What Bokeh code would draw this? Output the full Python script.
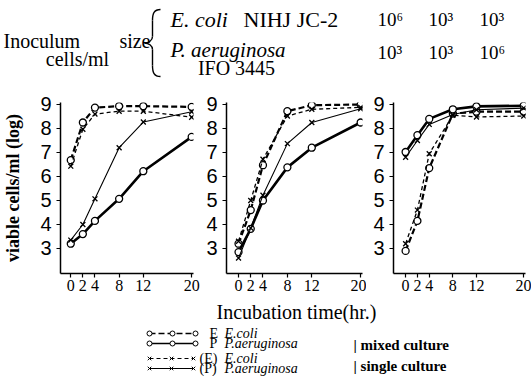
from bokeh.plotting import figure
from bokeh.layouts import column, row
from bokeh.models import Range1d, FixedTicker, Label
from bokeh.embed import file_html
from bokeh.resources import INLINE

# ---------------- data ----------------
hours = [0, 2, 4, 8, 12, 20]
log_ticks = [3, 4, 5, 6, 7, 8, 9]

# panel 1: E. coli 10^6, P. aeruginosa 10^3
e_mix_1 = [6.68, 8.25, 8.87, 8.93, 8.93, 8.9]
e_sgl_1 = [6.43, 7.97, 8.6, 8.72, 8.72, 8.47]
p_mix_1 = [3.2, 3.6, 4.15, 5.07, 6.22, 7.65]
p_sgl_1 = [3.35, 4.0, 5.07, 7.2, 8.27, 8.7]

# panel 2: E. coli 10^3, P. aeruginosa 10^3
e_mix_2 = [3.2, 4.6, 6.47, 8.72, 8.97, 9.0]
e_sgl_2 = [3.3, 5.0, 6.72, 8.52, 8.8, 8.88]
p_mix_2 = [2.85, 3.82, 5.0, 6.38, 7.2, 8.25]
p_sgl_2 = [2.6, 3.85, 5.22, 7.37, 8.25, 8.82]

# panel 3: E. coli 10^3, P. aeruginosa 10^6
e_mix_3 = [2.9, 4.15, 6.35, 8.62, 8.7, 8.7]
e_sgl_3 = [3.2, 4.6, 6.95, 8.55, 8.48, 8.52]
p_mix_3 = [7.02, 7.72, 8.4, 8.8, 8.92, 8.95]
p_sgl_3 = [6.8, 7.5, 8.17, 8.58, 8.78, 8.85]

ecoli_inoc = ["10\u2076", "10\u00b3", "10\u00b3"]
paer_inoc = ["10\u00b3", "10\u00b3", "10\u2076"]

SERIF = "Liberation Serif"

# ---------------- styles ----------------
STY = {
    "e_mix": dict(dash="6 3", lw=2.2, marker="circle"),
    "p_mix": dict(dash="solid", lw=2.6, marker="circle"),
    "e_sgl": dict(dash="4 3", lw=1.3, marker="x"),
    "p_sgl": dict(dash="solid", lw=1.1, marker="x"),
}


def draw_series(p, xs, ys, key):
    s = STY[key]
    p.line(xs, ys, line_color="black", line_width=s["lw"], line_dash=s["dash"])
    if s["marker"] == "circle":
        p.scatter(xs, ys, marker="circle", size=7, fill_color="white",
                  line_color="black", line_width=1.3)
    else:
        p.scatter(xs, ys, marker="x", size=7, line_color="black", line_width=1.3)


def panel(width, bl, br, xr, ylabel=None):
    p = figure(width=width, height=218, x_range=Range1d(*xr),
               y_range=Range1d(1.958, 9.083), output_backend="svg",
               toolbar_location=None, min_border_left=bl, min_border_right=br,
               min_border_top=22, min_border_bottom=25)
    p.outline_line_color = None
    p.grid.visible = False
    p.xaxis.ticker = FixedTicker(ticks=hours)
    p.yaxis.ticker = FixedTicker(ticks=log_ticks)
    for ax in (p.xaxis[0], p.yaxis[0]):
        ax.axis_line_width = 1.5
        ax.axis_line_color = "black"
        ax.major_tick_line_width = 1.2
        ax.major_tick_line_color = "black"
        ax.major_tick_out = 4
        ax.major_tick_in = 0
        ax.minor_tick_line_color = None
        ax.major_label_text_color = "black"
    p.yaxis.major_label_text_font = "Liberation Sans"
    p.yaxis.major_label_text_font_size = "20px"
    p.yaxis.major_label_standoff = 5
    p.xaxis.major_label_text_font = "Liberation Sans Narrow"
    p.xaxis.major_label_text_font_size = "16px"
    p.xaxis.major_label_standoff = 2
    if ylabel:
        p.yaxis.axis_label = ylabel
        p.yaxis.axis_label_text_font = SERIF
        p.yaxis.axis_label_text_font_size = "18px"
        p.yaxis.axis_label_text_font_style = "bold"
        p.yaxis.axis_label_standoff = 14
        p.yaxis.axis_label_text_color = "black"
    return p


p1 = panel(200, 57, 7, (-1.7, 20.3), "viable cells/ml (log)")
draw_series(p1, hours, e_mix_1, "e_mix")
draw_series(p1, hours, e_sgl_1, "e_sgl")
draw_series(p1, hours, p_mix_1, "p_mix")
draw_series(p1, hours, p_sgl_1, "p_sgl")

p2 = panel(166, 26, 4, (-1.97, 20.3))
draw_series(p2, hours, e_mix_2, "e_mix")
draw_series(p2, hours, e_sgl_2, "e_sgl")
draw_series(p2, hours, p_mix_2, "p_mix")
draw_series(p2, hours, p_sgl_2, "p_sgl")

p3 = panel(165, 27, 6, (-2.05, 20.3))
draw_series(p3, hours, e_mix_3, "e_mix")
draw_series(p3, hours, e_sgl_3, "e_sgl")
draw_series(p3, hours, p_mix_3, "p_mix")
draw_series(p3, hours, p_sgl_3, "p_sgl")


def blank(w, h, x0, y0):
    # coordinates of this figure equal picture pixel coordinates (y grows downward)
    f = figure(width=w, height=h, x_range=Range1d(x0, x0 + w),
               y_range=Range1d(y0 + h, y0), output_backend="svg",
               toolbar_location=None, min_border=0,
               x_axis_location=None, y_axis_location=None)
    f.outline_line_color = None
    f.grid.visible = False
    return f


def txt(f, x, y, s, size, style="normal", align="left", font=SERIF):
    f.add_layout(Label(x=x, y=y, text=s, text_font=font, text_font_size=size,
                       text_font_style=style, text_align=align,
                       text_baseline="middle", text_color="black"))


# ---------------- header ----------------
hdr = blank(531, 80, 0, 0)
txt(hdr, 3, 40, "Inoculum", "20px")
txt(hdr, 150, 40, "size", "20px", align="right")
txt(hdr, 77, 58, "cells/ml", "20px", align="center")
# brace
hdr.bezier(x0=[160, 152, 144, 152], y0=[9, 36, 42.5, 65],
           x1=[152, 144, 152, 160], y1=[20, 42.5, 49, 76],
           cx0=[153.5, 152, 148, 152], cy0=[9, 40, 42.5, 72],
           cx1=[152, 148, 152, 153.5], cy1=[13, 42.5, 45, 76],
           line_color="black", line_width=1.4)
hdr.segment(x0=[152, 152], y0=[20, 49], x1=[152, 152], y1=[36, 65],
            line_color="black", line_width=1.4)
txt(hdr, 170, 19, "E. coli", "22px", "italic")
txt(hdr, 243, 19, "NIHJ JC-2", "22px")
txt(hdr, 170, 49, "P. aeruginosa", "21px", "italic")
txt(hdr, 236, 67, "IFO 3445", "20px", align="center")
for i, (a, b) in enumerate(zip(ecoli_inoc, paer_inoc)):
    xx = 377 + 51 * i
    txt(hdr, xx, 19, a, "19px")
    txt(hdr, xx, 52, b, "19px")

# ---------------- footer ----------------
ftr = blank(531, 78, 0, 298)
txt(ftr, 296, 311, "Incubation time(hr.)", "20px", align="center")

key_x_o = [149, 172, 195]
key_x_x = [149, 171, 193]
rows_y = [333, 343, 358, 368]
keys = ["e_mix", "p_mix", "e_sgl", "p_sgl"]
tags = ["E", "P", "(E)", "(P)"]
names = ["E.coli", "P.aeruginosa", "E.coli", "P.aeruginosa"]
for yk, key, tag, nm in zip(rows_y, keys, tags, names):
    s = STY[key]
    kx = key_x_o if s["marker"] == "circle" else key_x_x
    ftr.line([kx[0], kx[-1]], [yk, yk], line_color="black",
             line_width=max(1.0, s["lw"] * 0.6), line_dash=s["dash"])
    if s["marker"] == "circle":
        ftr.scatter(kx, [yk] * 3, marker="circle", size=5, fill_color="white",
                    line_color="black", line_width=1.0)
    else:
        ftr.scatter(kx, [yk] * 3, marker="x", size=5, line_color="black",
                    line_width=1.0)
    tx = 209 if len(tag) == 1 else 199
    txt(ftr, tx, yk, tag, "14px")
    txt(ftr, 224, yk, nm, "14px", "italic")
txt(ftr, 353, 344, "| mixed culture", "15px", "bold")
txt(ftr, 353, 365, "| single culture", "15px", "bold")

layout = column(hdr, row(p1, p2, p3), ftr)
open("out.html", "w").write(file_html(layout, INLINE))
